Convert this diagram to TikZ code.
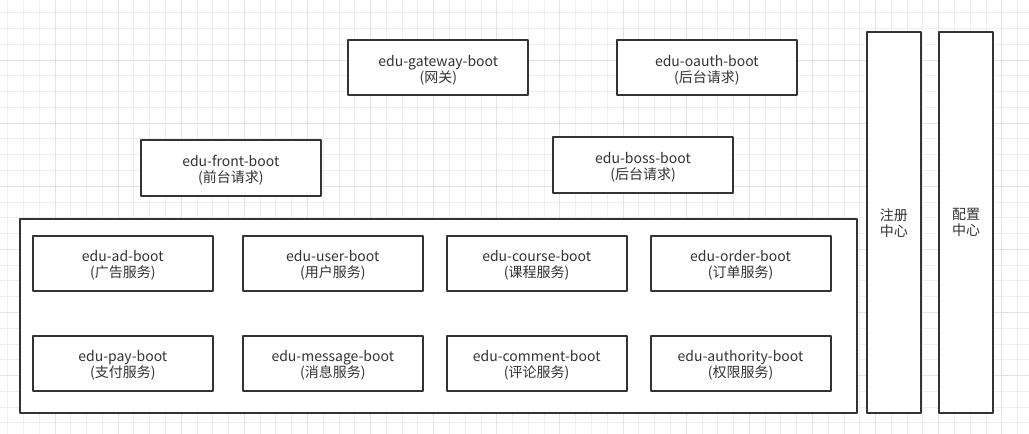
\documentclass[tikz,border=0pt]{standalone}
\usepackage{fontspec}
\setmainfont{Noto Sans CJK SC}
\usepackage{tikz}

\definecolor{boxline}{HTML}{333333}
\definecolor{boxtext}{HTML}{333333}
\definecolor{minorgrid}{HTML}{EFEFEF}
\definecolor{majorgrid}{HTML}{E3E3E3}

\begin{document}
\begin{tikzpicture}[
						x=0.75pt, y=-0.75pt,
						every node/.style={font=\fontsize{10.5}{12}\selectfont, text=boxtext},
						line cap=round,
						line join=round,
						svcbox/.style={draw=boxline, line width=1.5pt, fill=white, inner sep=0pt,
							align=center, minimum width=135pt, minimum height=41.5pt,
							text height=24pt},
						groupbox/.style={draw=boxline, line width=1.5pt, fill=white, inner sep=0pt,
							minimum width=627.75pt, minimum height=145.5pt},
						centerbox/.style={draw=boxline, line width=1.5pt, fill=white, inner sep=0pt,
							align=center, minimum width=40.5pt, minimum height=285.75pt}
						]
						
						\useasboundingbox (0,0) rectangle (1029,434);
						
						% Grid
						\fill[white] (0,0) rectangle (1029,434);
						\begin{scope}
							\clip (0,0) rectangle (1029,434);
							\foreach \i in {0,...,66}
								\draw[minorgrid, line width=0.75pt] ({-8.1+15.78*\i},0) -- ++(0,434);
							\foreach \j in {0,...,28}
								\draw[minorgrid, line width=0.75pt] (0,{-3.1+15.78*\j}) -- ++(1029,0);
							\foreach \i in {0,...,17}
								\draw[majorgrid, line width=0.75pt] ({-8.1+63.12*\i},0) -- ++(0,434);
							\foreach \j in {0,...,7}
								\draw[majorgrid, line width=0.75pt] (0,{-3.1+63.12*\j}) -- ++(1029,0);
						\end{scope}
						
						% Entry layer
						\node[svcbox] (gateway) at (438.3,67.5) {edu-gateway-boot\\(网关)};
						\node[svcbox] (oauth) at (706.9,67.6) {edu-oauth-boot\\(后台请求)};
						\node[svcbox] (front) at (230.8,168) {edu-front-boot\\(前台请求)};
						\node[svcbox] (boss) at (643,165) {edu-boss-boot\\(后台请求)};
						
						% Service group
						\node[groupbox] (services) at (438.3,316.3) {};
						\node[svcbox] (ad) at (122.8,263.3) {edu-ad-boot\\(广告服务)};
						\node[svcbox] (user) at (332.8,263.3) {edu-user-boot\\(用户服务)};
						\node[svcbox] (course) at (536.7,263.3) {edu-course-boot\\(课程服务)};
						\node[svcbox] (order) at (740.5,263.3) {edu-order-boot\\(订单服务)};
						\node[svcbox] (pay) at (122.8,363.3) {edu-pay-boot\\(支付服务)};
						\node[svcbox] (message) at (332.8,363.3) {edu-message-boot\\(消息服务)};
						\node[svcbox] (comment) at (536.7,363.3) {edu-comment-boot\\(评论服务)};
						\node[svcbox] (authority) at (740.5,363.3) {edu-authority-boot\\(权限服务)};
						
						% Registry and config
						\node[centerbox] (registry) at (893.8,222.7) {注册\\中心};
						\node[centerbox] (config) at (966,222.7) {配置\\中心};
						
					\end{tikzpicture}
\end{document}
